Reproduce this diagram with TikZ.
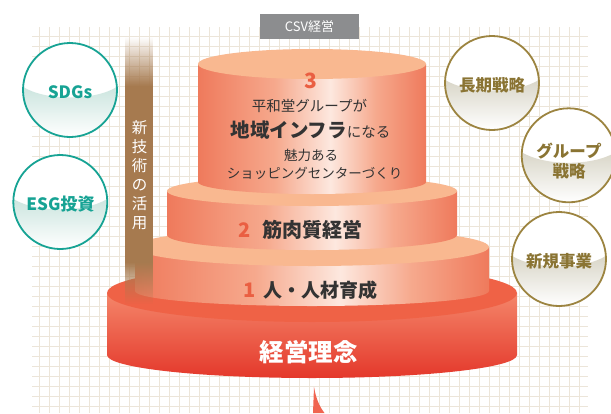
\documentclass[tikz,border=0pt]{standalone}
\usepackage{fontspec}
\setmainfont{Noto Sans CJK JP}
\usetikzlibrary{fadings}
\definecolor{gridc}{HTML}{ECE5D9}
\definecolor{csvgray}{HTML}{8C8D8F}
\definecolor{myteal}{HTML}{17A394}
\definecolor{tealshade}{HTML}{CCE5DF}
\definecolor{mygold}{HTML}{9C8440}
\definecolor{goldtext}{HTML}{8A7433}
\definecolor{goldshade}{HTML}{D9D6C8}
\definecolor{brownbar}{HTML}{A67A4F}
\definecolor{sideedge}{HTML}{EF7A5C}
\definecolor{sidemid}{HTML}{F6A98D}
\definecolor{sidelight}{HTML}{FDE8DF}
\definecolor{peach}{HTML}{F9B890}
\definecolor{basetop}{HTML}{EF6246}
\definecolor{baseup}{HTML}{F4866A}
\definecolor{baselow}{HTML}{E4382B}
\definecolor{numc}{HTML}{EA5F42}
\definecolor{darktext}{HTML}{333333}
\definecolor{wedgec}{HTML}{F06450}
\pgfdeclarehorizontalshading{tierside}{100bp}{color(0bp)=(sideedge); color(25bp)=(sideedge); color(42bp)=(sidemid); color(54bp)=(sidelight); color(64bp)=(sidemid); color(75bp)=(sideedge); color(100bp)=(sideedge)}
\newcommand\tiercyl[6]{% cx, rx, ytop, ybot, rytop, rybot
  \shade[shading=tierside] (#1-#2,#3) -- (#1-#2,#4) arc[start angle=180,end angle=0,x radius=#2,y radius=#6] -- (#1+#2,#3) -- cycle;
  \fill[peach] (#1,#3) ellipse[x radius=#2,y radius=#5];
}
\newcommand\glossball[5]{% cx cy r stroke shade
  \begin{scope}
    \clip (#1,#2) circle[radius=#3];
    \fill[white] (#1,#2) circle[radius=#3];
    \shade[top color=#5, bottom color=white] (#1-#3,#2-3) .. controls (#1-#3/2,#2+11) and (#1+#3/2,#2+11) .. (#1+#3,#2-3) -- (#1+#3,#2+#3) -- (#1-#3,#2+#3) -- cycle;
  \end{scope}
  \draw[#4, line width=1.8pt] (#1,#2) circle[radius=#3];
}
\tikzset{
  gridline/.style={gridc, line width=1pt},
  tiertext/.style={text=darktext, font=\bfseries\fontsize{19}{21}\selectfont, inner sep=0pt},
  tiernum/.style={text=numc, font=\bfseries\fontsize{20}{22}\selectfont, inner sep=0pt},
  smalltext/.style={text=darktext, font=\fontsize{13.5}{15}\selectfont, inner sep=0pt},
  tealtext/.style={text=myteal, font=\bfseries\fontsize{17}{19}\selectfont, inner sep=0pt},
  goldtxt/.style={text=goldtext, font=\bfseries\fontsize{16.5}{22}\selectfont, inner sep=0pt, align=center},
}
\begin{document}
\begin{tikzpicture}[x=1pt,y=-1pt]
\useasboundingbox (0,0) rectangle (611,413);
\fill[white] (0,0) rectangle (611,413);
% grid
\foreach \y in {36,46,...,406} \draw[gridline] (32,\y) -- (588,\y);
\foreach \x in {39.3,49.3,...,580} \draw[gridline] (\x,27) -- (\x,413);
% CSV label
\fill[csvgray] (260,14) rectangle (359,39);
\node[text=white, font=\fontsize{13}{14}\selectfont, inner sep=0pt] (csv) at (309.5,26.5) {CSV経営};
% side balls
\glossball{70}{90}{47}{myteal}{tealshade}
\node[tealtext] (sdgs) at (70,92) {SDGs};
\glossball{60.3}{202}{47}{myteal}{tealshade}
\node[tealtext] (esg) at (60.5,204) {ESG投資};
\glossball{492}{83}{47}{mygold}{goldshade}
\node[goldtxt] (choki) at (492,85) {長期戦略};
\glossball{568.7}{155.3}{47}{mygold}{goldshade}
\node[goldtxt] (group) at (569,161) {グループ\\[-2pt]戦略};
\glossball{559}{259}{47}{mygold}{goldshade}
\node[goldtxt] (shinki) at (559,261) {新規事業};
% base tier
\shade[top color=baseup, bottom color=baselow] (107,293) -- (107,355) arc[start angle=180,end angle=0,x radius=205,y radius=23] -- (517,293) -- cycle;
\fill[basetop] (312,293) ellipse[x radius=205,y radius=29];
% tiers
\tiercyl{312}{177}{247}{291}{19}{15}
\tiercyl{312}{145}{191}{235}{15}{15}
\tiercyl{312}{114}{64}{182}{15}{12}
% bar
\fill[brownbar, path fading=north] (125,37) rectangle (153,86);
\fill[brownbar] (125,85.5) rectangle (153,262.5);
\fill[brownbar, path fading=south] (125,262) rectangle (153,304);
\node[text=white, font=\fontsize{15.5}{19}\selectfont, align=center, inner sep=0pt] (tech) at (139.5,175) {新\\技\\術\\の\\活\\用};
% tier 3 texts
\node[tiernum, font=\bfseries\fontsize{21}{22}\selectfont] (n3) at (311,81) {3};
\node[smalltext, font=\fontsize{14.5}{16}\selectfont] (t3a) at (309.5,106) {平和堂グループが};
\node[text=darktext, inner sep=0pt] (t3b) at (310.5,130) {{\bfseries\fontsize{19.5}{21}\selectfont 地域インフラ}{\fontsize{14.5}{16}\selectfont になる}};
\node[smalltext] (t3c) at (311,155) {魅力ある};
\node[smalltext] (t3d) at (314.5,173) {ショッピングセンターづくり};
% tier 2
\node[tiernum] (n2) at (245,230) {2};
\node[tiertext, font=\bfseries\fontsize{20}{22}\selectfont] (t2) at (312,230) {筋肉質経営};
% tier 1
\node[tiernum] (n1) at (249.5,290) {1};
\node[tiertext] (t1) at (320,290) {人・人材育成};
% base
\node[text=white, font=\bfseries\fontsize{24.5}{26}\selectfont, inner sep=0pt] (t0) at (308.5,352) {経営理念};
% wedge
\fill[wedgec] (314,387) .. controls (316,398) and (319,406) .. (324.5,413) -- (313,413) .. controls (313.5,400) .. (314,387) -- cycle;
\end{tikzpicture}
\end{document}
